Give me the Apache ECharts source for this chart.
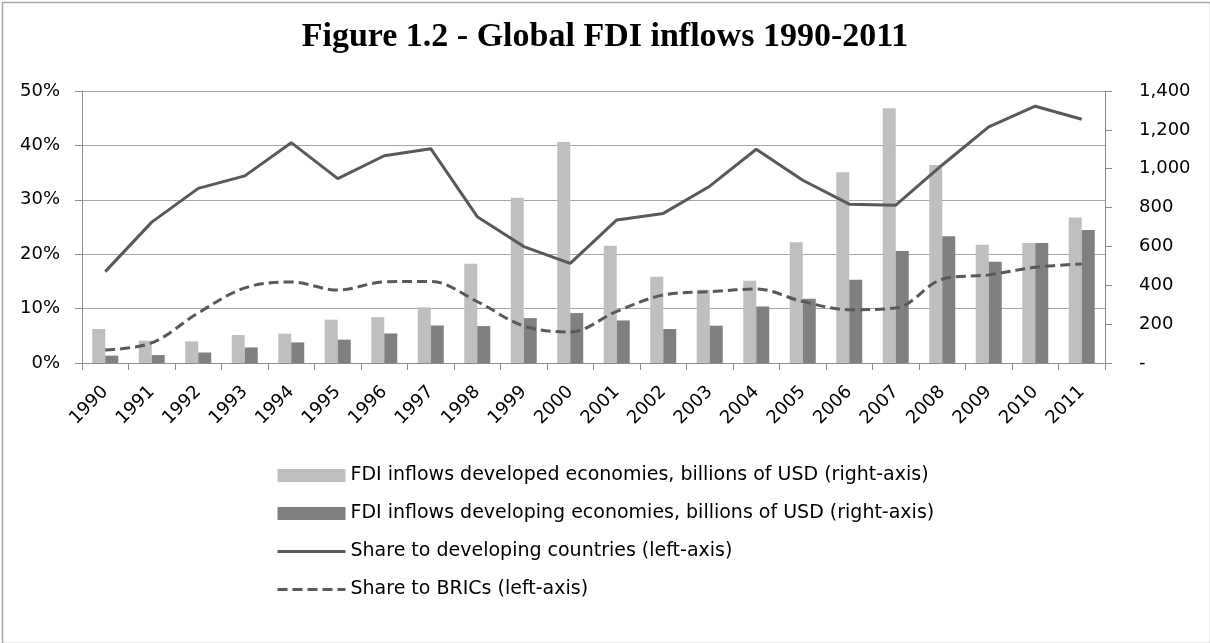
<!DOCTYPE html>
<html>
<head>
<meta charset="utf-8">
<script src="https://cdn.jsdelivr.net/npm/echarts@6/dist/echarts.min.js"></script>
<style>
html,body{margin:0;padding:0;background:#fff;}
#chart{width:1210px;height:643px;}
</style>
</head>
<body>
<div id="chart"></div>
<script>
var years = ['1990','1991','1992','1993','1994','1995','1996','1997','1998','1999','2000','2001','2002','2003','2004','2005','2006','2007','2008','2009','2010','2011'];
var developed = [175,115,111,144,151,223,236,286,511,851,1138,603,444,377,423,622,982,1311,1019,608,618,749];
var developing = [38,41,54,80,106,120,152,193,190,231,257,219,175,192,291,331,428,576,653,521,618,685];
var shareDeveloping = [16.8,25.9,32.1,34.4,40.5,33.9,38.1,39.4,26.9,21.4,18.3,26.3,27.5,32.5,39.3,33.6,29.2,29.0,36.4,43.4,47.2,44.8];
var shareBRICs = [2.4,3.7,9.2,13.8,14.9,13.4,14.9,15.0,11.3,6.8,5.7,9.5,12.5,13.1,13.6,11.3,9.8,10.1,15.4,16.2,17.6,18.2];
var seriesNames = [
  'FDI inflows developed economies, billions of USD (right-axis)',
  'FDI inflows developing economies, billions of USD (right-axis)',
  'Share to developing countries (left-axis)',
  'Share to BRICs (left-axis)'
];
var titleText = 'Figure 1.2 - Global FDI inflows 1990-2011';

var chart = echarts.init(document.getElementById('chart'), null, {renderer: 'canvas'});
var axisFont = {fontFamily: 'DejaVu Sans', fontSize: 18, color: '#000'};
var axisLineColor = '#8c8c8c';
var lineColor = '#595959';
chart.setOption({
  animation: false,
  backgroundColor: '#fff',
  graphic: [{
    type: 'rect', left: 0, top: 0, z: -1,
    shape: {x: 0.5, y: 0.5, width: 1208, height: 641},
    style: {fill: 'none', stroke: '#a6a6a6', lineWidth: 1.5}
  }],
  title: {
    text: titleText,
    left: 'center',
    top: 15,
    textStyle: {fontFamily: 'Liberation Serif', fontWeight: 'bold', fontSize: 34, color: '#000'}
  },
  grid: {left: 82, right: 105, top: 91, bottom: 280, containLabel: false},
  legend: {
    orient: 'vertical',
    left: 271,
    top: 461,
    itemWidth: 68,
    itemHeight: 13,
    itemGap: 19,
    textStyle: {fontFamily: 'DejaVu Sans', fontSize: 19, color: '#000', lineHeight: 19},
    data: [
      {name: seriesNames[0], icon: 'rect'},
      {name: seriesNames[1], icon: 'rect'},
      {name: seriesNames[2], itemStyle: {opacity: 0}, lineStyle: {width: 3, color: lineColor}},
      {name: seriesNames[3], itemStyle: {opacity: 0}, lineStyle: {width: 3, color: lineColor, type: [10, 5]}}
    ]
  },
  xAxis: {
    type: 'category',
    data: years,
    axisLine: {lineStyle: {color: axisLineColor, width: 1}},
    axisTick: {show: true, length: 7, inside: false, lineStyle: {color: axisLineColor}},
    axisLabel: Object.assign({rotate: 45, margin: 26, interval: 0}, axisFont),
    splitLine: {show: false}
  },
  yAxis: [{
    type: 'value',
    min: 0, max: 50, interval: 10,
    position: 'left',
    axisLine: {show: true, lineStyle: {color: axisLineColor}},
    axisTick: {show: true, length: 7, lineStyle: {color: axisLineColor}},
    axisLabel: Object.assign({margin: 22, formatter: '{value}%'}, axisFont),
    splitLine: {show: true, lineStyle: {color: '#a6a6a6', width: 1}}
  }, {
    type: 'value',
    min: 0, max: 1400, interval: 200,
    position: 'right',
    axisLine: {show: true, lineStyle: {color: axisLineColor}},
    axisTick: {show: true, length: 7, lineStyle: {color: axisLineColor}},
    axisLabel: Object.assign({margin: 34, formatter: function (v) { return v === 0 ? '-' : v.toLocaleString('en-US'); }}, axisFont),
    splitLine: {show: false}
  }],
  series: [{
    name: seriesNames[0], type: 'bar', yAxisIndex: 1, data: developed,
    barWidth: 13, barGap: '0%', itemStyle: {color: '#bfbfbf'}
  }, {
    name: seriesNames[1], type: 'bar', yAxisIndex: 1, data: developing,
    barWidth: 13, barGap: '0%', itemStyle: {color: '#808080'}
  }, {
    name: seriesNames[2], type: 'line', yAxisIndex: 0, data: shareDeveloping,
    symbol: 'none', lineStyle: {color: lineColor, width: 3}, itemStyle: {color: lineColor}, z: 5
  }, {
    name: seriesNames[3], type: 'line', yAxisIndex: 0, data: shareBRICs,
    symbol: 'none', smooth: 0.35,
    lineStyle: {color: lineColor, width: 3, type: [10, 5]}, itemStyle: {color: lineColor}, z: 5
  }]
});
</script>
</body>
</html>
